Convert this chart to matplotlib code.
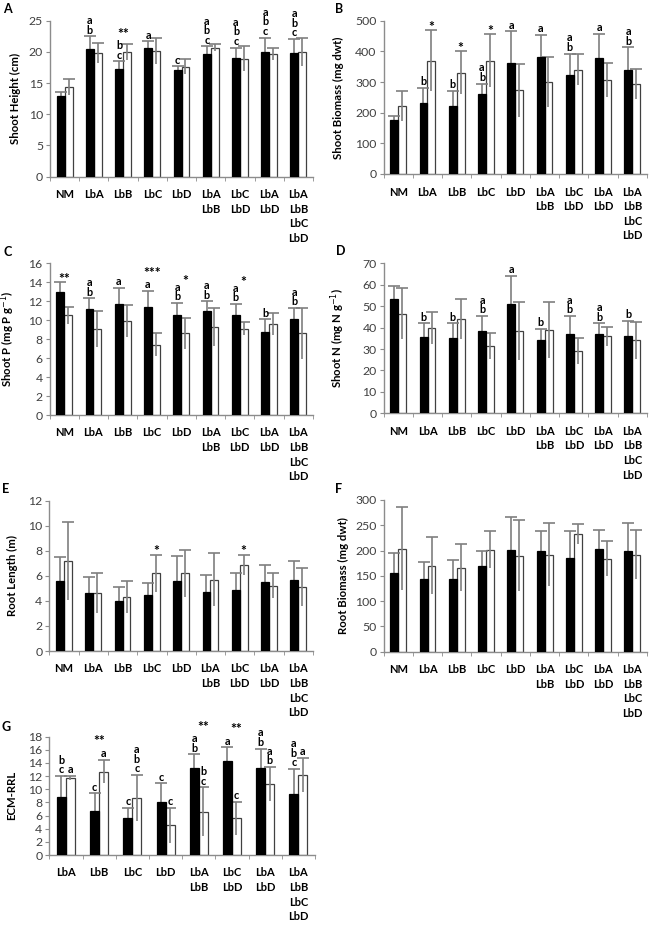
import matplotlib
matplotlib.use('Agg')
import matplotlib.pyplot as plt
import numpy as np

plt.rcParams['font.family'] = ['Lato', 'DejaVu Sans']

# categories
cats9 = ['NM', 'LbA', 'LbB', 'LbC', 'LbD', 'LbA\nLbB', 'LbC\nLbD', 'LbA\nLbD', 'LbA\nLbB\nLbC\nLbD']
cats8 = cats9[1:]

# A - shoot height (cm)
a_black = [13.0, 20.4, 17.3, 20.6, 17.1, 19.6, 19.1, 20.0, 19.8]
a_black_err = [0.6, 2.1, 1.2, 1.1, 0.6, 1.3, 1.6, 2.3, 2.3]
a_white = [14.4, 19.9, 20.0, 20.2, 17.6, 20.7, 18.9, 19.7, 20.0]
a_white_err = [1.3, 1.6, 1.3, 2.1, 1.2, 0.6, 2.0, 1.0, 2.3]
a_let_black = ['', 'ab', 'bc', 'a', 'c', 'abc', 'abc', 'abc', 'abc']
a_let_white = [''] * 9
a_stars = [(2, '**', 'c', 'b', 2)]

# B - shoot biomass (mg dwt)
b_black = [175, 232, 222, 262, 362, 380, 323, 377, 340]
b_black_err = [15, 48, 50, 33, 103, 73, 70, 80, 73]
b_white = [222, 370, 330, 370, 273, 300, 340, 307, 293]
b_white_err = [48, 100, 70, 87, 87, 80, 50, 56, 50]
b_let_black = ['', 'b', 'b', 'ab', 'a', 'a', 'ab', 'a', 'ab']
b_let_white = [''] * 9
b_stars = [(1, '*', 'w', 'w', 0), (2, '*', 'w', 'w', 0), (3, '*', 'w', 'w', 0)]

# C - shoot P (mg P g-1)
c_black = [13.0, 11.2, 11.7, 11.4, 10.5, 11.0, 10.5, 8.8, 10.1]
c_black_err = [1.0, 1.1, 1.7, 1.7, 1.3, 1.0, 1.2, 1.3, 1.2]
c_white = [10.5, 9.1, 9.9, 7.4, 8.6, 9.3, 9.1, 9.6, 8.6]
c_white_err = [0.9, 1.9, 1.7, 1.2, 1.6, 2.0, 0.7, 1.2, 2.7]
c_let_black = ['', 'ab', 'a', 'a', 'ab', 'ab', 'ab', 'b', 'ab']
c_let_white = [''] * 9
c_stars = [(0, '**', 'c', 'b', 0), (3, '***', 'c', 'b', 1), (4, '*', 'w', 'b', 1.4), (6, '*', 'w', 'b', 1.4)]

# D - shoot N (mg N g-1)
d_black = [53.5, 35.5, 35.0, 38.5, 51.0, 34.0, 37.0, 37.0, 36.0]
d_black_err = [6.0, 6.5, 7.0, 7.0, 13.0, 5.5, 8.5, 5.0, 7.0]
d_white = [46.5, 40.0, 44.0, 31.5, 38.5, 39.0, 29.0, 36.0, 34.0]
d_white_err = [12.0, 7.5, 9.5, 6.0, 13.5, 13.0, 6.0, 4.5, 8.5]
d_let_black = ['', 'b', 'b', 'ab', 'a', 'b', 'ab', 'ab', 'b']
d_let_white = [''] * 9
d_stars = []

# E - root length (m)
e_black = [5.6, 4.6, 4.0, 4.5, 5.6, 4.7, 4.9, 5.5, 5.7]
e_black_err = [1.9, 1.3, 1.1, 0.9, 2.0, 1.4, 1.3, 1.4, 1.5]
e_white = [7.2, 4.6, 4.3, 6.2, 6.2, 5.7, 6.9, 5.2, 5.1]
e_white_err = [3.1, 1.6, 1.3, 1.5, 1.9, 2.1, 0.8, 1.0, 1.5]
e_let_black = [''] * 9
e_let_white = [''] * 9
e_stars = [(3, '*', 'w', 'w', 0), (6, '*', 'w', 'w', 0)]

# F - root biomass (mg dwt)
f_black = [155, 143, 143, 169, 201, 199, 185, 203, 199]
f_black_err = [41, 35, 39, 31, 65, 39, 53, 37, 55]
f_white = [204, 170, 166, 202, 190, 192, 232, 184, 192]
f_white_err = [82, 56, 46, 36, 70, 62, 20, 34, 48]
f_let_black = [''] * 9
f_let_white = [''] * 9
f_stars = []

# G - ECM-RRL
g_black = [8.9, 6.7, 5.7, 8.0, 13.2, 14.3, 13.2, 9.3]
g_black_err = [3.1, 2.7, 1.5, 2.9, 2.1, 2.1, 3.0, 3.8]
g_white = [11.7, 12.7, 8.7, 4.5, 6.6, 5.6, 10.8, 12.2]
g_white_err = [0.3, 1.8, 3.5, 2.7, 3.7, 2.5, 2.6, 2.6]
g_let_black = ['bc', 'c', 'c', 'c', 'ab', 'a', 'ab', 'abc']
g_let_white = ['a', 'a', 'abc', 'c', 'bc', 'c', 'ab', 'a']
g_stars = [(1, '**', 'c', 'w', 1), (4, '**', 'w', 'b', 2), (5, '**', 'w', 'b', 1)]

W, H = 666, 934
fig = plt.figure(figsize=(W / 100, H / 100), dpi=100)

AX_GREY = '#8c8c8c'
ERR_GREY = '#7f7f7f'
BW = 0.27
LINE = 6.8  # letter stacking step in points


def panel(rect_px, cats, black, berr, white, werr, lb, lw, stars, ymax, step, ylabel, lab_x):
    l, t, r, b = rect_px
    ax = fig.add_axes([l / W, 1 - b / H, (r - l) / W, (b - t) / H])
    n = len(cats)
    x = np.arange(n)
    black, berr, white, werr = map(np.asarray, (black, berr, white, werr))
    xb, xw = x - BW / 2, x + BW / 2
    ax.bar(xw, white, BW, color='white', edgecolor='#404040', linewidth=0.9, zorder=1)
    ax.errorbar(xw, white, yerr=werr, fmt='none', ecolor=ERR_GREY, elinewidth=1.2, capsize=0, zorder=2)
    ax.errorbar(xb, black, yerr=berr, fmt='none', ecolor=ERR_GREY, elinewidth=1.2, capsize=0, zorder=2)
    ax.plot(xw, white + werr, ls='none', marker='_', ms=8, mew=1.2, color=ERR_GREY, zorder=2)
    ax.plot(xb, black + berr, ls='none', marker='_', ms=8, mew=1.2, color=ERR_GREY, zorder=2)
    ax.bar(xb, black, BW, color='black', edgecolor='black', linewidth=0.9, zorder=3)

    tops = {'b': black + berr, 'w': white + werr}
    xs = {'b': xb, 'w': xw, 'c': x}
    for key, labs in (('b', lb), ('w', lw)):
        for i, s in enumerate(labs):
            for k, ch in enumerate(s[::-1]):
                ax.annotate(ch, (xs[key][i], tops[key][i]), xytext=(0, 0.5 + k * LINE),
                            textcoords='offset points', ha='center', va='bottom',
                            fontsize=7.8, fontweight='bold', annotation_clip=False)
    for i, s, xside, ref, lev in stars:
        ax.annotate(s, (xs[xside][i], tops[ref][i]), xytext=(0, -2 + lev * LINE + (4 if lev >= 1 else 0)),
                    textcoords='offset points', ha='center', va='bottom',
                    fontsize=10, fontweight='bold', annotation_clip=False)

    ax.set_xlim(-0.5, n - 0.5)
    ax.set_ylim(0, ymax)
    ax.set_yticks(np.arange(0, ymax + step / 2, step))
    ax.set_xticks(x)
    ax.set_xticklabels(cats, fontsize=8, fontweight='bold', linespacing=1.4)
    ax.set_xticks(np.arange(-0.5, n, 1), minor=True)
    ax.tick_params(axis='x', which='major', length=0, pad=9)
    ax.tick_params(axis='x', which='minor', length=3, color=AX_GREY)
    ax.tick_params(axis='y', length=3, color=AX_GREY, labelsize=8.8, labelcolor='#404040', pad=2)
    for sp in ('top', 'right'):
        ax.spines[sp].set_visible(False)
    for sp in ('left', 'bottom'):
        ax.spines[sp].set_color(AX_GREY)
        ax.spines[sp].set_linewidth(1.0)
    ax.set_ylabel(ylabel, fontsize=8.2, fontweight='bold')
    ax.yaxis.set_label_coords(-lab_x, 0.5)
    return ax


panel((50, 20.7, 313, 176.7), cats9, a_black, a_black_err, a_white, a_white_err,
      a_let_black, a_let_white, a_stars, 25, 5, 'Shoot Height (cm)', 0.11)
panel((383.5, 20.7, 647, 174), cats9, b_black, b_black_err, b_white, b_white_err,
      b_let_black, b_let_white, b_stars, 500, 100, 'Shoot Biomass (mg dwt)', 0.15)
panel((49.5, 263.3, 313, 415), cats9, c_black, c_black_err, c_white, c_white_err,
      c_let_black, c_let_white, c_stars, 16, 2, 'Shoot P (mg P g$^{-1}$)', 0.125)
panel((383.7, 263.3, 647, 413.3), cats9, d_black, d_black_err, d_white, d_white_err,
      d_let_black, d_let_white, d_stars, 70, 10, 'Shoot N (mg N g$^{-1}$)', 0.14)
panel((49.3, 500.7, 313, 651), cats9, e_black, e_black_err, e_white, e_white_err,
      e_let_black, e_let_white, e_stars, 12, 2, 'Root Length (m)', 0.12)
panel((383.7, 500, 647, 651.7), cats9, f_black, f_black_err, f_white, f_white_err,
      f_let_black, f_let_white, f_stars, 300, 50, 'Root Biomass (mg dwt)', 0.13)
panel((49.3, 736.7, 315, 855), cats8, g_black, g_black_err, g_white, g_white_err,
      g_let_black, g_let_white, g_stars, 18, 2, 'ECM-RRL', 0.12)

for lab, (px, py) in {'A': (3, 3), 'B': (335, 3), 'C': (3, 246), 'D': (336, 245),
                      'E': (2, 483), 'F': (335, 483), 'G': (2, 721)}.items():
    fig.text(px / W, 1 - py / H, lab, fontsize=9, fontweight='bold', ha='left', va='top')

fig.savefig('out.png', dpi=100)
